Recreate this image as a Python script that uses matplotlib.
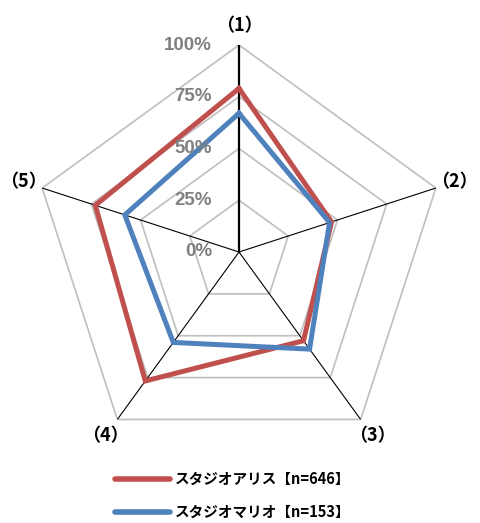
import numpy as np
import matplotlib
matplotlib.use("Agg")
import matplotlib.pyplot as plt
from matplotlib.transforms import ScaledTranslation

categories = ["（1）", "（2）", "（3）", "（4）", "（5）"]
series_names = ["スタジオアリス【n=646】", "スタジオマリオ【n=153】"]
alice = [0.79, 0.47, 0.53, 0.77, 0.73]
mario = [0.67, 0.46, 0.58, 0.54, 0.58]
tick_values = [0.0, 0.25, 0.50, 0.75, 1.0]
tick_labels = ["0%", "25%", "50%", "75%", "100%"]
colors = ["#C0504D", "#4F81BD"]

W, H, DPI = 480, 523, 100
fig = plt.figure(figsize=(W / DPI, H / DPI), dpi=DPI)
cx, cy, R = 239, 252, 207
ax = fig.add_axes([(cx - R) / W, 1 - (cy + R) / H, 2 * R / W, 2 * R / H], projection="polar")
ax.set_theta_offset(np.pi / 2)
ax.set_theta_direction(-1)
ax.set_ylim(0, 1)
ax.grid(False)
ax.spines["polar"].set_visible(False)
ax.set_xticks([])
ax.set_yticks([])
ax.patch.set_alpha(0)

n = len(categories)
angles = np.arange(n) * 2 * np.pi / n
closed = np.concatenate([angles, angles[:1]])

# grid pentagons
for v in tick_values[1:]:
    ax.plot(closed, [v] * (n + 1), color="#BFBFBF", lw=1.2, zorder=1)
# spokes
for i, a in enumerate(angles):
    ax.plot([a, a], [0, 1], color="black", lw=1.6 if i == 0 else 0.8, zorder=2)

handles = []
for vals, c, name in zip([alice, mario], colors, series_names):
    v = np.concatenate([vals, vals[:1]])
    h, = ax.plot(closed, v, color=c, lw=3.6, zorder=3, label=name, solid_joinstyle="miter")
    handles.append(h)

# radial tick labels
off = ScaledTranslation(-27 / DPI, 0, fig.dpi_scale_trans)
for v, lab in zip(tick_values, tick_labels):
    ax.text(0, v, lab, ha="right", va="center", color="#808080", fontsize=13.5,
            fontweight="bold", family=["Liberation Sans", "DejaVu Sans"],
            transform=ax.transData + off, zorder=4)

# category labels
for a, lab in zip(angles, categories):
    ax.text(a, 1.095, lab, ha="center", va="center", fontsize=13, fontweight="bold",
            family=["Noto Sans CJK JP", "DejaVu Sans"], color="black")

leg = fig.legend(handles, series_names, loc="upper left",
                 bbox_to_anchor=(115 / W, 1 - 471 / H), frameon=False,
                 borderpad=0, borderaxespad=0, handlelength=3.8, handletextpad=0.3,
                 labelspacing=1.15,
                 prop={"family": ["Noto Sans CJK JP", "DejaVu Sans"], "weight": "bold", "size": 10.5})
for lh in leg.get_lines():
    lh.set_linewidth(4)
    lh.set_solid_capstyle("round")

fig.savefig("out.png", dpi=DPI)
